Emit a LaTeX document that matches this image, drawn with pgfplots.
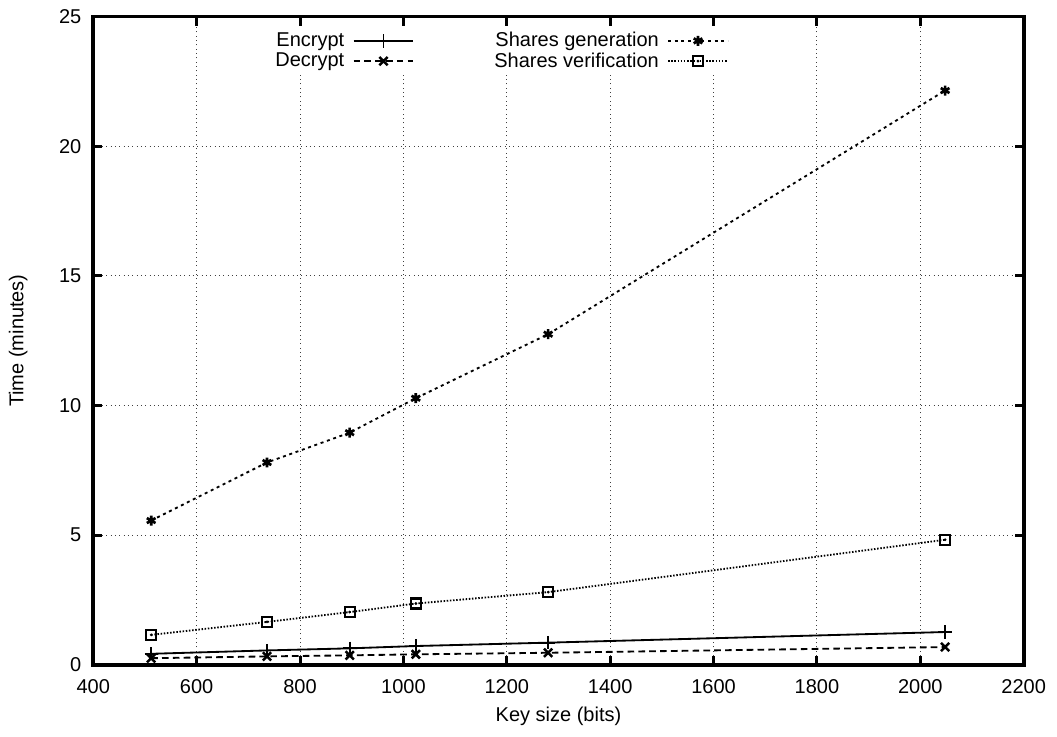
\documentclass[border=0pt]{standalone}
\usepackage{pgfplots}
\pgfplotsset{compat=1.18}
\usepackage{fontspec}
\setmainfont{Liberation Sans}

\pgfdeclareplotmark{sqdot}{%
  \pgfpathrectangle{\pgfpoint{-\pgfplotmarksize}{-\pgfplotmarksize}}{\pgfpoint{2\pgfplotmarksize}{2\pgfplotmarksize}}%
  \pgfusepathqstroke
  \pgfpathcircle{\pgfpointorigin}{0.3\pgfplotmarksize}%
  \pgfusepathqfill
}

\begin{document}
\begin{tikzpicture}
\begin{axis}[
    scale only axis,
    width=558.5pt, height=389pt,
    xmin=400, xmax=2200,
    ymin=0, ymax=25,
    xtick={400,600,...,2200},
    ytick={0,5,...,25},
    xlabel={Key size (bits)},
    ylabel={Time (minutes)},
    /pgf/number format/assume math mode=true,
    /pgf/number format/1000 sep={},
    tick label style={font=\fontsize{12}{14}\selectfont},
    label style={font=\fontsize{12}{14}\selectfont},
    xticklabel style={anchor=center, yshift=-13pt},
    yticklabel style={anchor=east, inner sep=0pt, xshift=-7pt},
    xlabel style={at={(axis description cs:0.5,-0.0797)}, anchor=center},
    ylabel style={at={(axis description cs:-0.0806,0.5)}, anchor=center},
    axis line style={line width=2.2pt},
    tick style={line width=1.8pt, black},
    major tick length=5.5pt,
    tick align=inside,
    grid=major,
    grid style={dash pattern=on 0.6pt off 2pt, line width=0.6pt, black!75},
    legend columns=2,
    transpose legend,
    legend plot pos=right,
    legend cell align=right,
    legend image code/.code={%
      \draw[mark repeat=2,mark phase=2,#1] plot coordinates {(0pt,0pt)(18pt,0pt)(36pt,0pt)};},
    legend style={at={(axis description cs:0.19,0.984)}, anchor=north west, draw=none, fill=white,
        font=\fontsize{12}{14}\selectfont, row sep=-2pt, inner sep=1pt,
        /tikz/every odd column/.append style={column sep=3pt},
        /tikz/every even column/.append style={column sep=46pt}},
    every axis plot/.append style={line width=1.1pt, black},
]
\addplot[mark=+, mark size=4pt, mark options={solid}] coordinates {
(512,0.42)(736,0.55)(896,0.63)(1024,0.72)(1280,0.85)(2048,1.26)};
\addlegendentry{Encrypt}
\addplot[dash pattern=on 4pt off 2.5pt, mark=x, mark size=3.5pt, mark options={solid, line width=1.5pt}] coordinates {
(512,0.25)(736,0.32)(896,0.36)(1024,0.40)(1280,0.46)(2048,0.68)};
\addlegendentry{Decrypt}
\addplot[dash pattern=on 1.8pt off 2.2pt, mark=asterisk, mark size=3pt, mark options={solid, line width=1.6pt}] coordinates {
(512,5.56)(736,7.80)(896,8.95)(1024,10.28)(1280,12.75)(2048,22.15)};
\addlegendentry{Shares generation}
\addplot[dash pattern=on 0.9pt off 1pt, mark=sqdot, mark size=3pt, mark options={solid, line width=1.3pt}] coordinates {
(512,1.15)(736,1.65)(896,2.03)(1024,2.36)(1280,2.80)(2048,4.82)};
\addlegendentry{Shares verification}
\end{axis}
\path (current axis.south west) ++(-56pt,-43pt) (current axis.north east) ++(20pt,10pt);
\end{tikzpicture}
\end{document}
